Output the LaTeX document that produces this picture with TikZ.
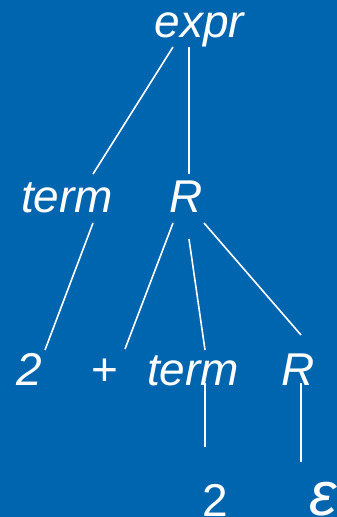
\documentclass[tikz,border=0pt]{standalone}
\usepackage{fontspec}
\setmainfont{Liberation Sans}
\definecolor{bgblue}{RGB}{0,101,175}
\begin{document}
\begin{tikzpicture}[x=1pt,y=1pt,
  lbl/.style={text=white, font=\itshape\fontsize{46}{46}\selectfont, inner sep=0pt, anchor=base},
  uplbl/.style={text=white, font=\upshape\fontsize{46}{46}\selectfont, inner sep=0pt, anchor=base},
  edge/.style={draw=white, line width=1.6pt}]
\path[use as bounding box] (0,0) rectangle (337,-517);
\clip (0,0) rectangle (337,-517);
\fill[bgblue] (0,0) rectangle (337,-517);
% nodes
\node[lbl] (expr) at (199.5,-37) {expr};
\node[lbl] (term1) at (67,-212) {term};
\node[lbl] (R1) at (186,-212) {R};
\node[lbl] (two1) at (29.5,-385) {2};
\node[uplbl] (plus) at (104.5,-385) {+};
\node[lbl] (term2) at (193,-385) {term};
\node[lbl] (R2) at (298,-385) {R};
\node[uplbl] (two2) at (215,-516) {2};
\node[text=white, font=\itshape\fontsize{62}{62}\selectfont, inner sep=0pt, anchor=base west] (eps) at (309,-515) {ε};
% connectors
\draw[edge] ([shift={(-26.5,-10)}]expr.base) -- ([shift={(26,38)}]term1.base);
\draw[edge] ([shift={(-10.5,-10)}]expr.base) -- ([shift={(3,38)}]R1.base);
\draw[edge] ([shift={(26,-11)}]term1.base) -- ([shift={(15.5,35)}]two1.base);
\draw[edge] ([shift={(-13,-11)}]R1.base) -- ([shift={(20.5,36)}]plus.base);
\draw[edge] ([shift={(3,-27)}]R1.base) -- ([shift={(12,35)}]term2.base);
\draw[edge] ([shift={(18,-11)}]R1.base) -- ([shift={(3,50)}]R2.base);
\draw[edge] ([shift={(12,2)}]term2.base) -- ([shift={(-10,69)}]two2.base);
\draw[edge] ([shift={(3,2)}]R2.base) -- ([shift={(-8,53)}]eps.base west);
\end{tikzpicture}
\end{document}
